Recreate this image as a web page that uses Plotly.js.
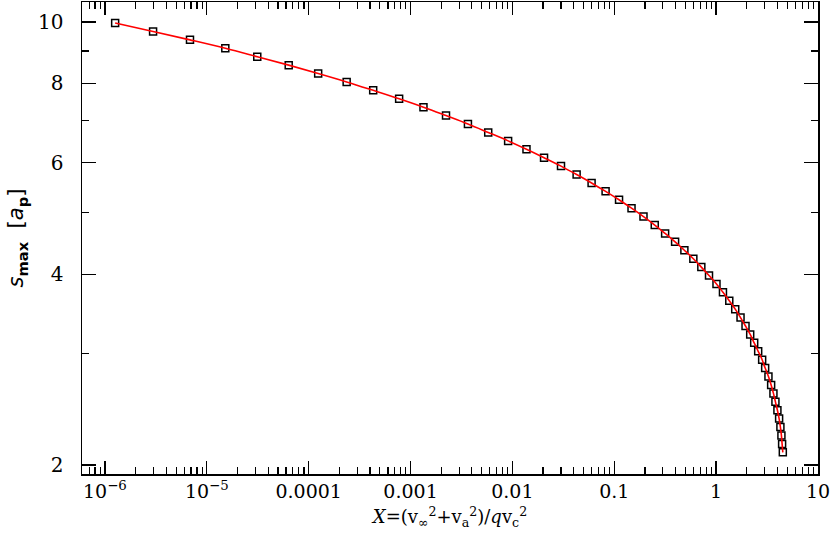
<!DOCTYPE html>
<html>
<head>
<meta charset="utf-8">
<script src="https://cdn.plot.ly/plotly-3.0.1.min.js"></script>
<style>
  html, body { margin: 0; padding: 0; background: #fff; }
  #plot { width: 830px; height: 541px; }
</style>
</head>
<body>
<div id="plot"></div>
<script>
// X = (v_inf^2 + v_a^2) / q v_c^2
const xVals = [
  1.26e-6, 2.97e-6, 6.84e-6, 1.52e-5, 3.13e-5, 6.37e-5, 1.24e-4, 2.36e-4,
  4.30e-4, 7.73e-4, 1.34e-3, 2.23e-3, 3.66e-3, 5.79e-3, 9.08e-3, 0.01375,
  0.02045, 0.0300, 0.0427, 0.0599, 0.0822, 0.1114, 0.1477, 0.1936,
  0.2497, 0.3157, 0.3956, 0.4879, 0.5976, 0.7157, 0.8514, 1.008,
  1.167, 1.346, 1.540, 1.736, 1.943, 2.160, 2.364, 2.587,
  2.830, 3.029, 3.263, 3.467, 3.652, 3.820, 3.996, 4.152,
  4.276, 4.374, 4.443, 4.515
];

// s_max in units of a_p
const sMax = [
  9.964, 9.664, 9.373, 9.091, 8.817, 8.551, 8.294, 8.044,
  7.802, 7.567, 7.339, 7.118, 6.904, 6.696, 6.494, 6.299,
  6.109, 5.925, 5.747, 5.574, 5.406, 5.243, 5.085, 4.932,
  4.784, 4.640, 4.500, 4.365, 4.233, 4.106, 3.982, 3.862,
  3.746, 3.633, 3.524, 3.418, 3.315, 3.215, 3.118, 3.024,
  2.933, 2.845, 2.759, 2.676, 2.595, 2.517, 2.441, 2.368,
  2.296, 2.227, 2.160, 2.095
];

const xTickVals = [1e-6, 1e-5, 1e-4, 1e-3, 0.01, 0.1, 1, 10];
const xTickText = ["10<sup>\u22126</sup>", "10<sup>\u22125</sup>", "0.0001", "0.001", "0.01", "0.1", "1", "10"];
const yTickVals = [2, 4, 6, 8, 10];
const yTickText = ["2", "4", "6", "8", "10"];
const yMinorVals = [3, 5, 7, 9];

// minor ticks at 2..9 of every decade on the x axis
const xMinorVals = [];
for (let e = -7; e <= 0; e++) {
  for (let m = 2; m <= 9; m++) xMinorVals.push(m * Math.pow(10, e));
}

const tickFont = { family: "'DejaVu Serif', serif", size: 20, color: "#000" };
const xTickFont = { family: "'DejaVu Serif', serif", size: 19, color: "#000" };

const data = [
  {
    x: xVals,
    y: sMax,
    type: "scatter",
    mode: "markers",
    marker: { symbol: "square-open", size: 7, color: "#000", line: { width: 1.5, color: "#000" } },
    hoverinfo: "x+y",
  },
  {
    x: xVals,
    y: sMax,
    type: "scatter",
    mode: "lines",
    line: { color: "#ff0000", width: 1.6, shape: "spline" },
    hoverinfo: "skip",
  },
];

const layout = {
  width: 830,
  height: 541,
  margin: { l: 82, r: 12, t: 2, b: 67 },
  paper_bgcolor: "#fff",
  plot_bgcolor: "#fff",
  showlegend: false,
  font: tickFont,
  xaxis: {
    type: "log",
    range: [-6.225, 1.0],
    tickmode: "array",
    tickvals: xTickVals,
    ticktext: xTickText,
    ticks: "inside",
    ticklen: 13,
    tickwidth: 1.3,
    tickcolor: "#000",
    showline: true,
    linecolor: "#000",
    linewidth: 1.5,
    mirror: "allticks",
    showgrid: false,
    zeroline: false,
    tickfont: xTickFont,
    ticklabeloverflow: "allow",
    minor: { tickmode: "array", tickvals: xMinorVals, ticks: "inside", ticklen: 7, tickwidth: 1.2, tickcolor: "#000", showgrid: false },
    title: {
      text: "<i>X</i>=(v<sub>\u221e</sub><sup>2</sup>+v<sub>a</sub><sup>2</sup>)/<i>q</i>v<sub>c</sub><sup>2</sup>",
      font: { family: "'DejaVu Serif', serif", size: 18, color: "#000" },
      standoff: 9,
    },
  },
  yaxis: {
    type: "log",
    range: [0.287, 1.0316],
    tickmode: "array",
    tickvals: yTickVals,
    ticktext: yTickText,
    ticks: "inside",
    ticklen: 14,
    tickwidth: 1.3,
    tickcolor: "#000",
    showline: true,
    linecolor: "#000",
    linewidth: 1.5,
    mirror: "allticks",
    showgrid: false,
    zeroline: false,
    tickfont: tickFont,
    ticklabelstandoff: 13,
    ticklabeloverflow: "allow",
    minor: { tickmode: "array", tickvals: yMinorVals, ticks: "inside", ticklen: 7, tickwidth: 1.2, tickcolor: "#000", showgrid: false },
    title: {
      text: "<i>s</i><sub><b>max</b></sub>  [<i>a</i><sub><b>p</b></sub>]",
      font: { family: "'DejaVu Sans', sans-serif", size: 21, color: "#000" },
      standoff: 8,
    },
  },
};

Plotly.newPlot("plot", data, layout, { displayModeBar: false, staticPlot: true });
</script>
</body>
</html>
